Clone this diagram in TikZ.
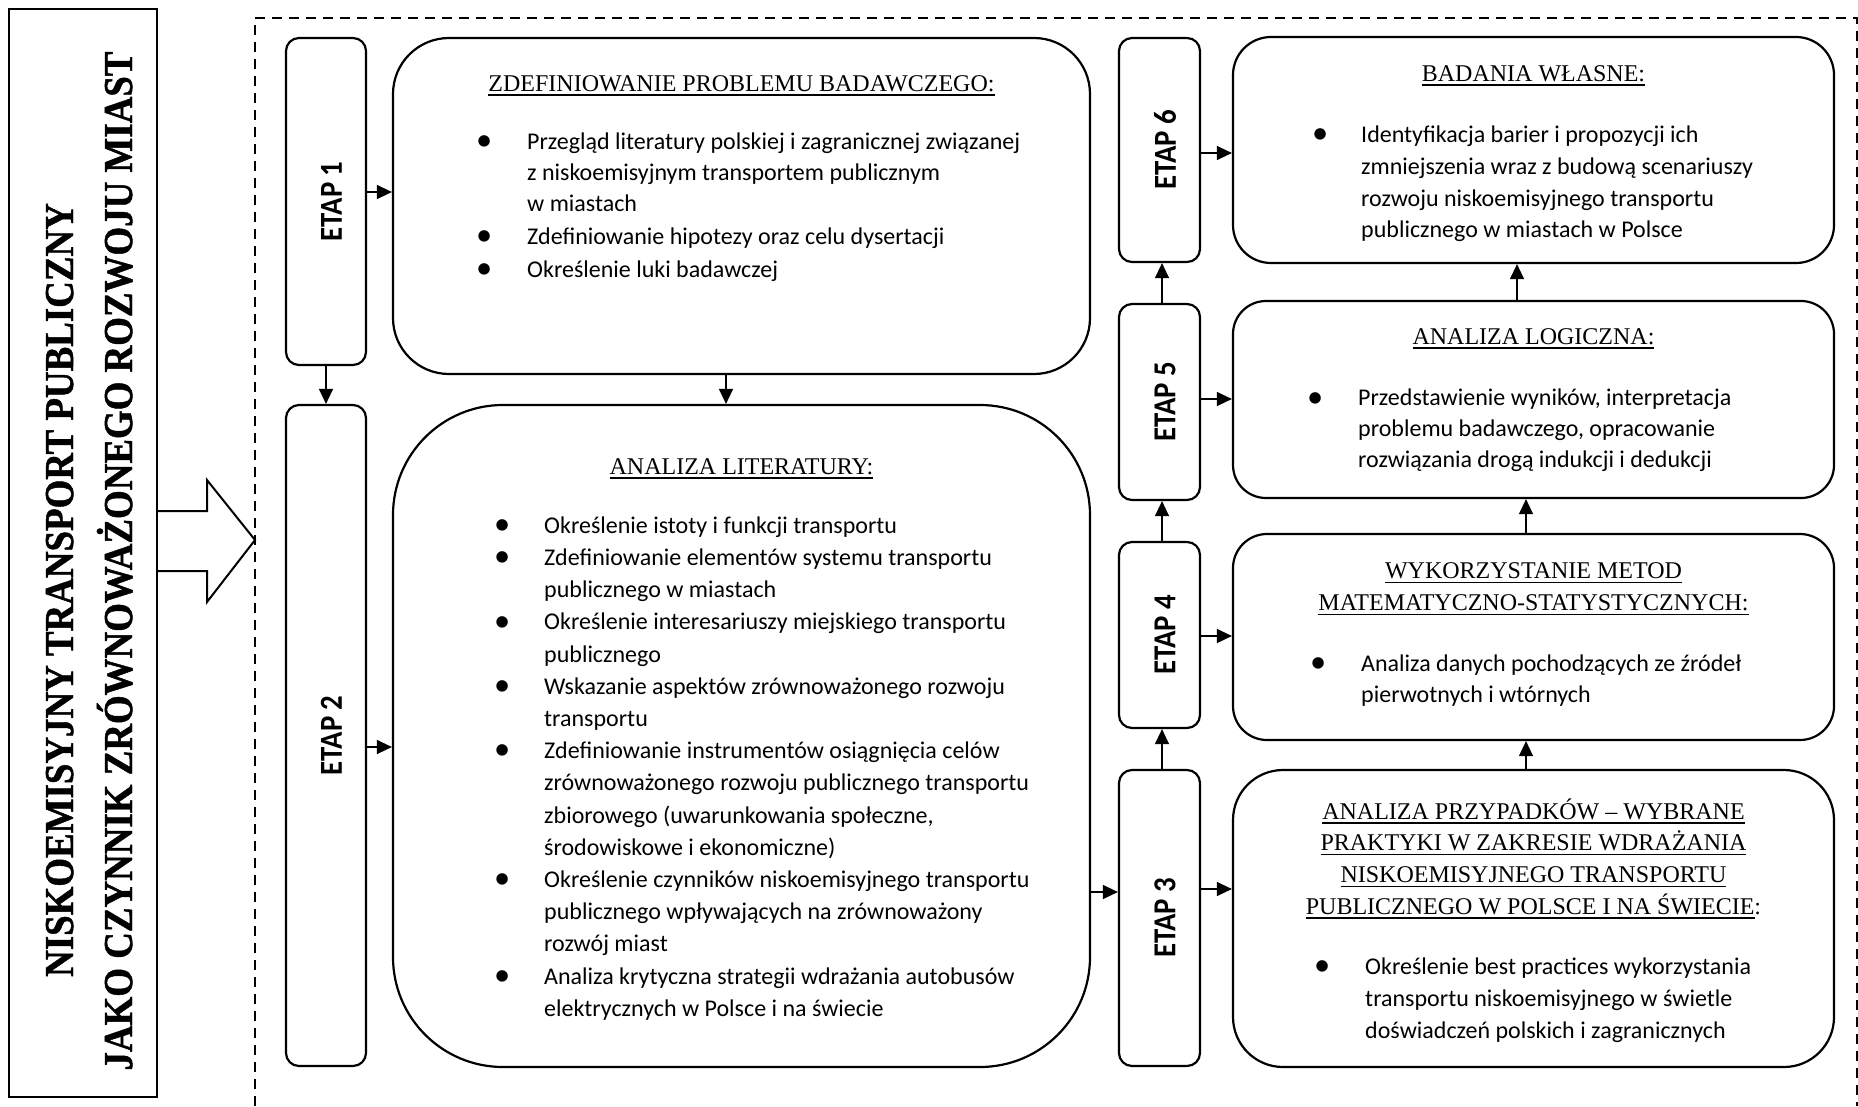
\documentclass[tikz,border=0pt]{standalone}
\usepackage{fontspec}
\usepackage{graphicx}
\usetikzlibrary{arrows.meta,calc}
\newfontfamily\bodyf{Carlito}
\newfontfamily\headf{Liberation Serif}
\newfontfamily\titlef{Liberation Serif}[BoldFont={Liberation Serif Bold}, BoldFeatures={FakeBold=1.2}]
\newcommand{\myul}[1]{\setbox0=\hbox{#1}\rlap{\rule[-4.3pt]{\wd0}{1.3pt}}\box0}
\newcommand{\bl}[1]{\makebox[#1][l]{\makebox[0pt]{\raisebox{-1.2pt}{\scalebox{1.35}{\textbullet}}}}}
\newcommand{\ind}[1]{\hspace*{#1}}
\newcommand{\etp}[1]{\scalebox{0.9}[1]{#1}}
\newcommand{\ttl}[1]{\scalebox{0.9}[1]{#1}}
\begin{document}
\begin{tikzpicture}[x=1pt,y=-1pt,
  etap/.style={draw, line width=2.2pt, rounded corners=13pt, minimum width=80pt, inner sep=0pt},
  bigbox/.style={draw, line width=2.2pt, inner sep=0pt},
  lbl/.style={font={\bodyf\bfseries\fontsize{32}{36}\selectfont}, rotate=90, inner sep=0pt},
  hd/.style={font={\headf\fontsize{24}{#1}\selectfont}, align=center, inner sep=0pt, anchor=north},
  hd/.default=31.7,
  lst/.style={font={\bodyf\fontsize{24}{#1}\selectfont}, align=left, inner sep=0pt, anchor=north west},
  lst/.default=31.7,
  lefttxt/.style={font={\titlef\bfseries\fontsize{41}{48}\selectfont}, rotate=90, inner sep=0pt, anchor=base},
  arr/.style={-{Triangle[length=15pt,width=14pt]}, line width=1.3pt},
  frame/.style={line width=2.5pt, dash pattern=on 10pt off 7pt}
]
\useasboundingbox (0,0) rectangle (1858,1106);

% left title box
\node[draw, line width=2.4pt, minimum width=148pt, minimum height=1088pt, inner sep=0pt] (lb) at (83,553) {};
\node[lefttxt] (t1) at (73,590) {\ttl{NISKOEMISYJNY TRANSPORT PUBLICZNY}};
\node[lefttxt] (t2) at (132,561) {\ttl{JAKO CZYNNIK ZRÓWNOWAŻONEGO ROZWOJU MIAST}};

% block arrow
\coordinate (ba1) at (207,511);
\coordinate (ba2) at (207,571);
\draw[line width=2pt, line join=miter] (lb.east |- ba1) -- (ba1) -- (207,480) -- (255,540) -- (207,602) -- (ba2) -- (lb.east |- ba2);

% dashed frame
\draw[frame] (255,1106) -- (255,18) -- (1857,18) -- (1857,1106);

% ETAP boxes
\node[etap, minimum height=327pt] (e1) at (326,201.5) {};
\node[etap, minimum height=661pt] (e2) at (326,735.5) {};
\node[etap, minimum width=81pt, minimum height=296pt] (e3) at (1159.5,918) {};
\node[etap, minimum width=81pt, minimum height=186pt] (e4) at (1159.5,635) {};
\node[etap, minimum width=81pt, minimum height=196pt] (e5) at (1159.5,402) {};
\node[etap, minimum width=81pt, minimum height=224pt] (e6) at (1159.5,150) {};

\node[lbl] (l1) at ([xshift=5.5pt]e1.center) {\etp{ETAP 1}};
\node[lbl] (l2) at ([xshift=5.5pt]e2.center) {\etp{ETAP 2}};
\node[lbl] (l3) at ([xshift=5.5pt]e3.center) {\etp{ETAP 3}};
\node[lbl] (l4) at ([xshift=5.5pt]e4.center) {\etp{ETAP 4}};
\node[lbl] (l5) at ([xshift=5.5pt]e5.center) {\etp{ETAP 5}};
\node[lbl] (l6) at ([xshift=5.5pt]e6.center) {\etp{ETAP 6}};

% content boxes
\node[bigbox, rounded corners=56pt, minimum width=697pt, minimum height=336pt] (b1) at (741.5,206) {};
\node[bigbox, rounded corners=110pt, minimum width=697pt, minimum height=662pt] (b2) at (741.5,736) {};
\node[bigbox, rounded corners=50pt, minimum width=601pt, minimum height=297pt] (b3) at (1533.5,918.5) {};
\node[bigbox, rounded corners=34pt, minimum width=601pt, minimum height=206pt] (b4) at (1533.5,637) {};
\node[bigbox, rounded corners=33pt, minimum width=601pt, minimum height=197pt] (b5) at (1533.5,399.5) {};
\node[bigbox, rounded corners=38pt, minimum width=601pt, minimum height=226pt] (b6) at (1533.5,150) {};

% headings
\node[hd=32] (h1) at (741.5,68.6) {\strut\myul{ZDEFINIOWANIE PROBLEMU BADAWCZEGO:}};
\node[hd=32] (h2) at (741.5,451.6) {\strut\myul{ANALIZA LITERATURY:}};
\node[hd=31.7] (h3) at (1533.5,796.8) {\strut\myul{ANALIZA PRZYPADKÓW – WYBRANE}\\\myul{PRAKTYKI W ZAKRESIE WDRAŻANIA}\\\myul{NISKOEMISYJNEGO TRANSPORTU}\\\myul{PUBLICZNEGO W POLSCE I NA ŚWIECIE}:};
\node[hd=32] (h4) at (1533.5,556.1) {\strut\myul{WYKORZYSTANIE METOD}\\\myul{MATEMATYCZNO-STATYSTYCZNYCH:}};
\node[hd=32] (h5) at (1533.5,321.6) {\strut\myul{ANALIZA LOGICZNA:}};
\node[hd=32] (h6) at (1533.5,58.6) {\strut\myul{BADANIA WŁASNE:}};

% lists
\node[lst=31] (c1) at (484,127.8) {\strut\bl{43pt}Przegląd literatury polskiej i zagranicznej związanej\\
\ind{43pt}z niskoemisyjnym transportem publicznym\\
\ind{43pt}w miastach\\[2pt]
\bl{43pt}Zdefiniowanie hipotezy oraz celu dysertacji\\[1.5pt]
\bl{43pt}Określenie luki badawczej};

\node[lst=32.2] (c2) at (502,510.5) {\strut\bl{42pt}Określenie istoty i funkcji transportu\\
\bl{42pt}Zdefiniowanie elementów systemu transportu\\
\ind{42pt}publicznego w miastach\\
\bl{42pt}Określenie interesariuszy miejskiego transportu\\
\ind{42pt}publicznego\\
\bl{42pt}Wskazanie aspektów zrównoważonego rozwoju\\
\ind{42pt}transportu\\
\bl{42pt}Zdefiniowanie instrumentów osiągnięcia celów\\
\ind{42pt}zrównoważonego rozwoju publicznego transportu\\
\ind{42pt}zbiorowego (uwarunkowania społeczne,\\
\ind{42pt}środowiskowe i ekonomiczne)\\
\bl{42pt}Określenie czynników niskoemisyjnego transportu\\
\ind{42pt}publicznego wpływających na zrównoważony\\
\ind{42pt}rozwój miast\\
\bl{42pt}Analiza krytyczna strategii wdrażania autobusów\\
\ind{42pt}elektrycznych w Polsce i na świecie};

\node[lst=32] (c3) at (1322,952.1) {\strut\bl{43pt}Określenie best practices wykorzystania\\
\ind{43pt}transportu niskoemisyjnego w świetle\\
\ind{43pt}doświadczeń polskich i zagranicznych};

\node[lst=31.5] (c4) at (1318,649) {\strut\bl{43pt}Analiza danych pochodzących ze źródeł\\
\ind{43pt}pierwotnych i wtórnych};

\node[lst=31] (c5) at (1315,384) {\strut\bl{43pt}Przedstawienie wyników, interpretacja\\
\ind{43pt}problemu badawczego, opracowanie\\
\ind{43pt}rozwiązania drogą indukcji i dedukcji};

\node[lst=31.9] (c6) at (1320,119.7) {\strut\bl{41pt}Identyfikacja barier i propozycji ich\\
\ind{41pt}zmniejszenia wraz z budową scenariuszy\\
\ind{41pt}rozwoju niskoemisyjnego transportu\\
\ind{41pt}publicznego w miastach w Polsce};

% connector coordinates
\coordinate (y1) at (0,192);
\coordinate (y2) at (0,747);
\coordinate (y23) at (0,892);
\coordinate (y3) at (0,889);
\coordinate (y4) at (0,636);
\coordinate (y5) at (0,399);
\coordinate (y6) at (0,153);
\coordinate (xb1) at (726,0);
\coordinate (xe) at (1162,0);
\coordinate (xb) at (1526,0);
\coordinate (xb6) at (1517,0);

% horizontal arrows
\draw[arr] (e1.east |- y1) -- (b1.west |- y1);
\draw[arr] (e2.east |- y2) -- (b2.west |- y2);
\draw[arr] (b2.east |- y23) -- (e3.west |- y23);
\draw[arr] (e3.east |- y3) -- (b3.west |- y3);
\draw[arr] (e4.east |- y4) -- (b4.west |- y4);
\draw[arr] (e5.east |- y5) -- (b5.west |- y5);
\draw[arr] (e6.east |- y6) -- (b6.west |- y6);

% vertical arrows
\draw[arr] (e1.south) -- (e2.north);
\draw[arr] (b1.south -| xb1) -- (b2.north -| xb1);
\draw[arr] (e3.north -| xe) -- (e4.south -| xe);
\draw[arr] (e4.north -| xe) -- (e5.south -| xe);
\draw[arr] (e5.north -| xe) -- (e6.south -| xe);
\draw[arr] (b3.north -| xb) -- (b4.south -| xb);
\draw[arr] (b4.north -| xb) -- (b5.south -| xb);
\draw[arr] (b5.north -| xb6) -- (b6.south -| xb6);
\end{tikzpicture}
\end{document}
